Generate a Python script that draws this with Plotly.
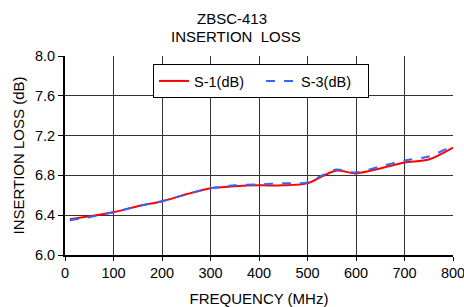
import plotly.graph_objects as go

freq = [10, 50, 100, 150, 200, 250, 300, 350, 400, 450, 500, 530, 560, 600, 650, 700, 750, 800]
s1_db = [6.36, 6.39, 6.43, 6.49, 6.54, 6.61, 6.67, 6.69, 6.70, 6.70, 6.72, 6.79, 6.85, 6.82, 6.87, 6.93, 6.96, 7.08]
s3_db = [6.35, 6.38, 6.43, 6.49, 6.54, 6.61, 6.67, 6.70, 6.71, 6.72, 6.73, 6.80, 6.86, 6.83, 6.89, 6.95, 6.99, 7.10]

x_ticks = [0, 100, 200, 300, 400, 500, 600, 700, 800]
y_ticks = [6.0, 6.4, 6.8, 7.2, 7.6, 8.0]
y_tick_labels = ["6.0", "6.4", "6.8", "7.2", "7.6", "8.0"]

font = "Liberation Sans, Arial, sans-serif"

W, H = 464, 307
ML, MR, MT, MB = 65, 11, 56, 52
plot_w = W - ML - MR
plot_h = H - MT - MB


def px_x(pix):
    return (pix - ML) / plot_w


def px_y(pix):
    return (H - MB - pix) / plot_h


fig = go.Figure()
fig.add_trace(go.Scatter(x=freq, y=s1_db, mode="lines", name="S-1(dB)",
                         line=dict(color="#FF0000", width=2, shape="spline", smoothing=0.8)))
fig.add_trace(go.Scatter(x=freq, y=s3_db, mode="lines", name="S-3(dB)",
                         line=dict(color="#3366FF", width=2, dash="dash", shape="spline",
                                   smoothing=0.8)))

fig.update_layout(
    width=W, height=H,
    margin=dict(l=ML, r=MR, t=MT, b=MB, autoexpand=False),
    paper_bgcolor="white", plot_bgcolor="white",
    font=dict(family=font, size=14.5, color="black"),
    showlegend=True,
    legend=dict(orientation="h", x=px_x(153), y=px_y(64), xanchor="left", yanchor="top",
                bgcolor="white", bordercolor="black", borderwidth=1,
                font=dict(size=14.5), itemwidth=30, entrywidth=62, entrywidthmode="pixels",
                tracegroupgap=0),
    xaxis=dict(range=[0, 800], tickvals=x_ticks, showgrid=True, gridcolor="#333333",
               gridwidth=1, ticks="outside", ticklen=4, tickcolor="black",
               tickfont=dict(size=14.5), ticklabeloverflow="allow",
               showline=True, linecolor="black", linewidth=2, mirror=False,
               automargin=False,
               title=dict(text="FREQUENCY (MHz)", standoff=14, font=dict(size=15)),
               zeroline=False),
    yaxis=dict(range=[6.0, 8.0], tickvals=y_ticks, ticktext=y_tick_labels,
               showgrid=True, gridcolor="#333333", gridwidth=1,
               ticks="outside", ticklen=5, tickcolor="black",
               tickfont=dict(size=14.5), ticklabeloverflow="allow",
               showline=True, linecolor="black", linewidth=2, automargin=False,
               title=dict(text="INSERTION LOSS (dB)", standoff=7, font=dict(size=15)),
               zeroline=False),
    annotations=[
        dict(text="ZBSC-413", x=px_x(232), xref="paper", y=px_y(18), yref="paper",
             xanchor="center", yanchor="middle", showarrow=False, font=dict(size=15)),
        dict(text="INSERTION  LOSS", x=px_x(236), xref="paper", y=px_y(36), yref="paper",
             xanchor="center", yanchor="middle", showarrow=False, font=dict(size=15)),
    ],
)

fig.write_html("out.html", config={"displayModeBar": False},
               post_script="document.body.style.margin='0';document.body.style.overflow='hidden';")
